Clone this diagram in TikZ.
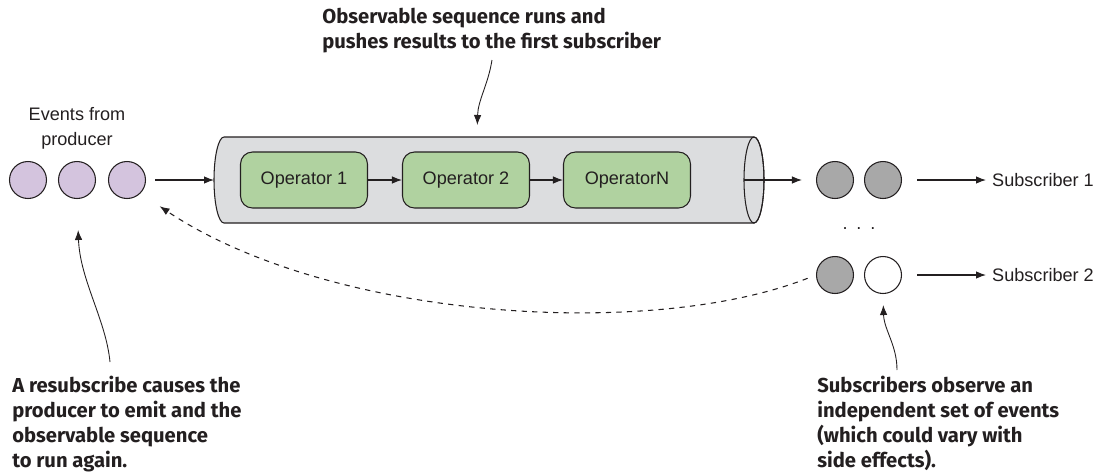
\documentclass[tikz,border=0pt]{standalone}
\usepackage{fontspec}
\setmainfont{Liberation Sans}
\newfontfamily\notefont{Fira Sans}
\usetikzlibrary{arrows.meta}
\definecolor{edgec}{RGB}{35,31,32}
\definecolor{eventc}{RGB}{212,196,222}
\definecolor{pipec}{RGB}{220,221,223}
\definecolor{opc}{RGB}{176,210,160}
\definecolor{seenc}{RGB}{168,168,168}

\begin{document}
\begin{tikzpicture}[x=0.02cm, y=0.02cm,
    event/.style={circle, draw=edgec, fill=eventc, line width=0.6pt,
      minimum size=0.74cm, inner sep=0pt},
    seen/.style={event, fill=seenc},
    unseen/.style={event, fill=white},
    op/.style={draw=edgec, fill=opc, line width=0.6pt, rounded corners=0.24cm,
      minimum width=2.54cm, minimum height=1.12cm, text=edgec,
      font=\fontsize{10.3}{12}\selectfont},
    lbl/.style={font=\fontsize{10.3}{14.2}\selectfont, text=edgec},
    note/.style={font=\notefont\bfseries\fontsize{11.5}{14.2}\selectfont,
      align=left, text=edgec, inner sep=0pt},
    flow/.style={-{Latex[length=2mm, width=1.5mm]}, edgec, line width=0.6pt},
    back/.style={flow, dashed},
    callout/.style={flow, line width=0.5pt}]
  \useasboundingbox (0,0) rectangle (1103,-474);
  \filldraw[fill=pipec, draw=edgec, line width=0.6pt] (224,-137) -- (754,-137)
    arc[start angle=90, end angle=-90, x radius=10, y radius=43] -- (224,-223)
    arc[start angle=270, end angle=90, x radius=10, y radius=43] -- cycle;
  \draw[edgec, line width=0.6pt] (754,-180) ellipse[x radius=10, y radius=43];
  \coordinate (pipein) at (214,-180);
  \coordinate (pipeout) at (744,-180);
  \coordinate (pipetop) at (477,-137);
  \node[event] (e1) at (28,-180) {};
  \node[event] (e2) at (77,-180) {};
  \node[event] (e3) at (127,-180) {};
  \node[lbl, align=center] (src) at (77,-128) {Events from\\producer};
  \node[op] (op1) at (304,-180) {Operator 1};
  \node[op] (op2) at (466,-180) {Operator 2};
  \node[op] (opn) at (627,-180) {OperatorN};
  \node[seen] (s11) at (835,-180) {};
  \node[seen] (s12) at (883,-180) {};
  \node[seen] (s21) at (835,-275) {};
  \node[unseen] (s22) at (883,-275) {};
  \node[lbl] (dots) at (859,-229) {.\hspace{5pt}.\hspace{5pt}.};
  \node[lbl, anchor=west] (sub1) at (986,-180) {Subscriber 1};
  \node[lbl, anchor=west] (sub2) at (986,-275) {Subscriber 2};
  \node[note, anchor=north west] (runnote) at (322,-8)
    {Observable sequence runs and\\pushes results to the first subscriber};
  \node[note, anchor=north west] (resubnote) at (12,-376)
    {A resubscribe causes the\\producer to emit and the\\observable sequence\\to run again.};
  \node[note, anchor=north west] (subnote) at (817,-376)
    {Subscribers observe an\\independent set of events\\(which could vary with\\side effects).};
  \draw[flow, shorten <=0.18cm] (e3) -- (pipein);
  \foreach \a/\b in {op1/op2, op2/opn} \draw[flow] (\a) -- (\b);
  \draw[flow, shorten >=0.28cm] (pipeout) -- (s11);
  \foreach \i in {1,2} \draw[flow, shorten <=0.3cm] (s\i2) -- (sub\i);
  \draw[back, shorten <=0.18cm, shorten >=0.46cm] (s21.west)
    .. controls (650,-340) and (330,-320) .. (e3.south east);
  \draw[callout, shorten >=0.24cm] (492,-60) .. controls (488,-85) and (478,-100) .. (pipetop);
  \draw[callout, shorten >=0.62cm] (110,-362) .. controls (106,-320) and (80,-280) .. (e2.south);
  \draw[callout, shorten >=0.22cm] (897,-370) .. controls (897,-345) and (884,-330) .. (s22.south);
\end{tikzpicture}
\end{document}
